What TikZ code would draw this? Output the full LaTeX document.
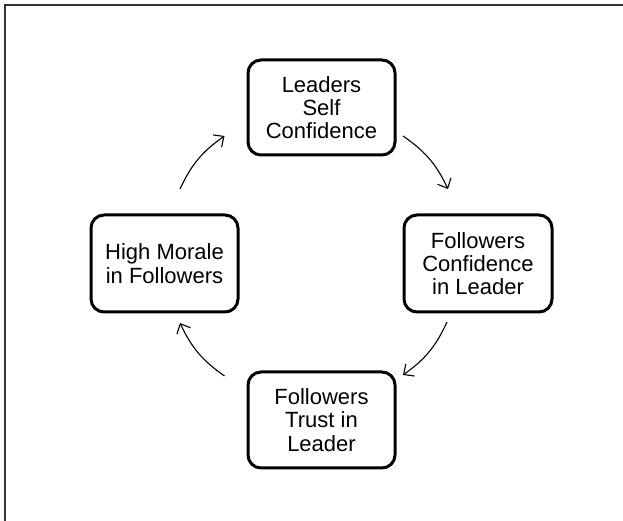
\documentclass[tikz,border=0pt]{standalone}
\usepackage{fontspec}
\setmainfont{Liberation Sans}
\usetikzlibrary{arrows.meta}
\begin{document}
\begin{tikzpicture}[x=1pt,y=1pt,
  boxnode/.style={draw=black, line width=3pt, rounded corners=13pt, fill=white,
    minimum width=#1, align=center, inner sep=0pt,
    font=\fontsize{22}{23.3}\selectfont},
  cyc/.style={line width=1.1pt, -{Straight Barb[length=8pt,width=15pt,line width=1.1pt]}, bend left=15}]
\useasboundingbox (0,0) rectangle (623,521);
\fill[white] (0,0) rectangle (623,521);
\draw[line width=1.3pt, color=black!80] (5,0) -- (5,516) -- (623,516);
\node[boxnode=147pt, minimum height=95pt] (top) at (321.5,413.5) {Leaders\\Self\\Confidence};
\node[boxnode=148pt, minimum height=97pt] (right) at (478,257.5) {Followers\\Confidence\\in Leader};
\node[boxnode=147pt, minimum height=97pt] (left) at (164.5,257.5) {High Morale\\in Followers};
\node[boxnode=147pt, minimum height=96pt] (bottom) at (321.5,101) {Followers\\Trust in\\Leader};
\coordinate (a1s) at (403,385); \coordinate (a1e) at (448,332);
\coordinate (a2s) at (447,199); \coordinate (a2e) at (403,146);
\coordinate (a3s) at (224.5,145); \coordinate (a3e) at (180,198);
\coordinate (a4s) at (180,332); \coordinate (a4e) at (224.5,385);
\draw[cyc] (a1s) to (a1e);
\draw[cyc] (a2s) to (a2e);
\draw[cyc] (a3s) to (a3e);
\draw[cyc] (a4s) to (a4e);
\end{tikzpicture}
\end{document}
